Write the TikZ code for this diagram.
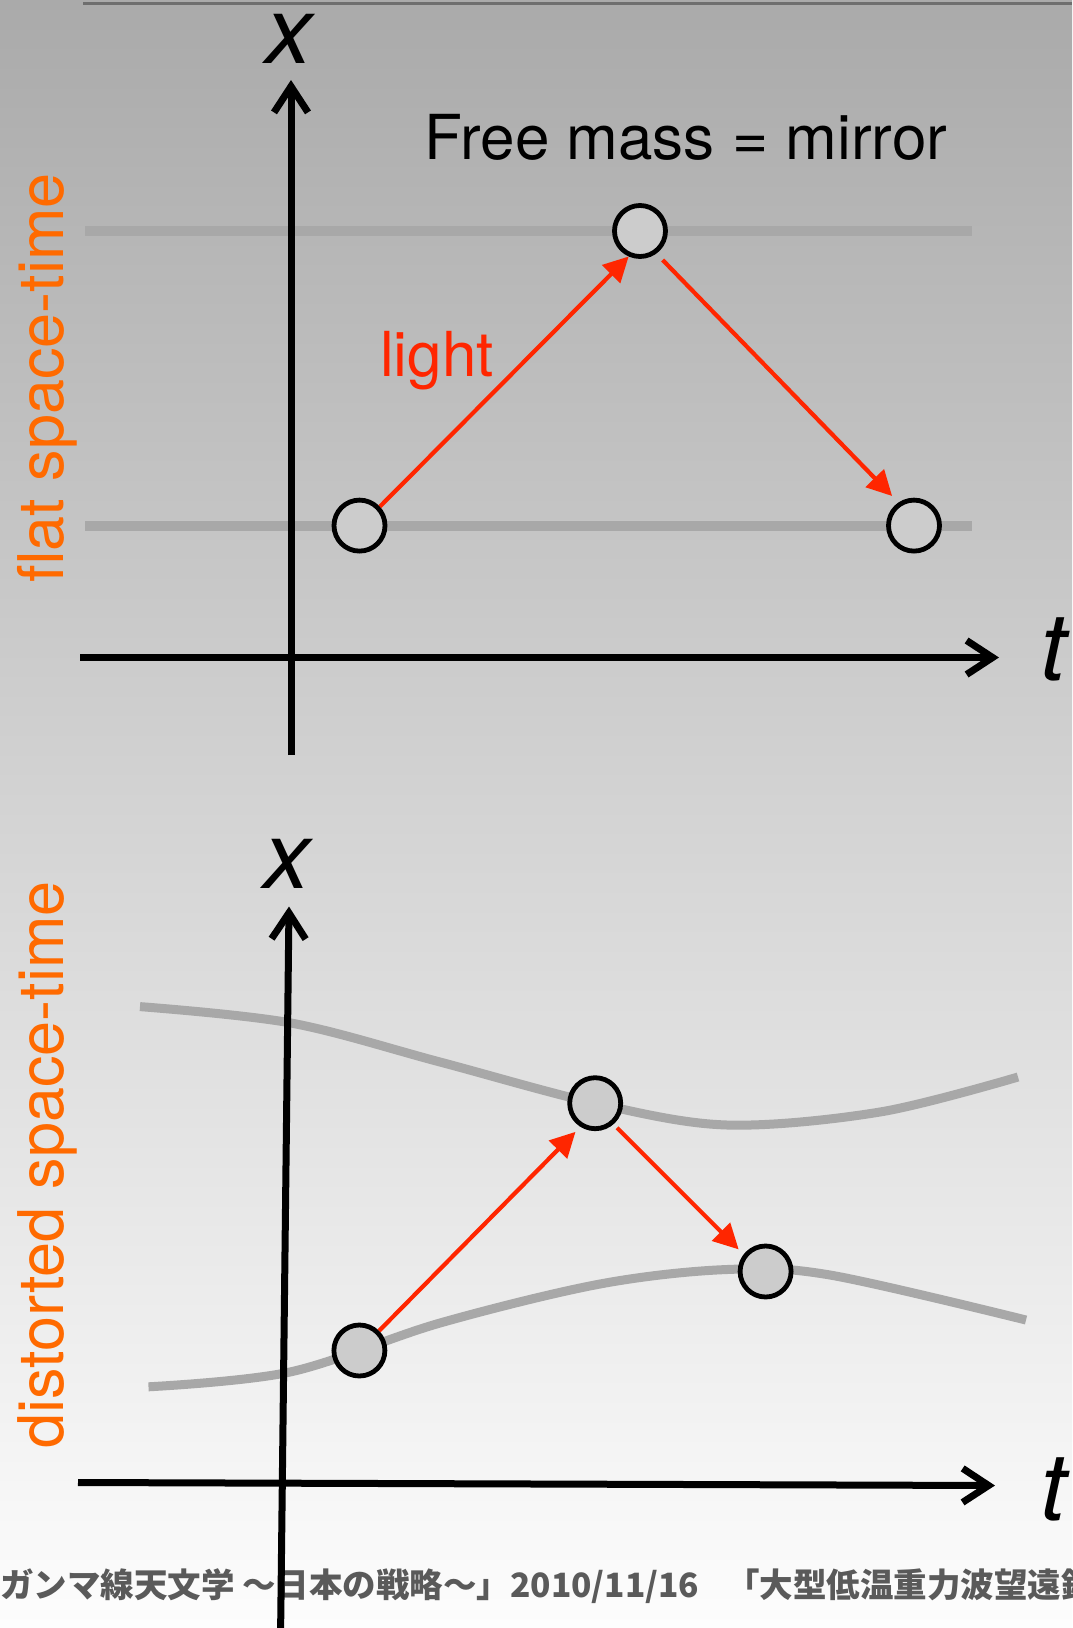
\documentclass[tikz,border=0pt]{standalone}
\usepackage{fontspec}
\setmainfont{TeX Gyre Heros}
\newfontfamily\cjk{Noto Sans CJK JP}
\usetikzlibrary{arrows.meta}
\definecolor{bgtop}{RGB}{170,170,170}
\definecolor{bgbot}{RGB}{253,253,253}
\definecolor{guidegray}{RGB}{168,168,168}
\definecolor{rulegray}{RGB}{110,110,110}
\definecolor{lightred}{RGB}{255,38,0}
\definecolor{labelorange}{RGB}{255,106,0}
\definecolor{footgray}{RGB}{90,90,90}
\definecolor{mirrorfill}{RGB}{204,204,204}
\tikzset{
  axisline/.style={line width=7pt, -{Straight Barb[length=26pt,width=34pt,sharp]}},
  guideline/.style={draw=guidegray, line width=10pt},
  mirror/.style={circle, draw=black, fill=mirrorfill, line width=4.8pt, minimum size=51pt, inner sep=0pt},
  ray/.style={draw=lightred, line width=4.2pt, -{Triangle[length=25pt,width=25pt]}},
  axlabel/.style={font=\fontsize{94}{100}\selectfont\itshape, inner sep=0pt},
  bigtext/.style={font=\fontsize{62}{70}\selectfont, inner sep=0pt},
  sidelabel/.style={font=\fontsize{63}{70}\selectfont, text=labelorange, inner sep=0pt, rotate=90, anchor=base},
}
\begin{document}
\begin{tikzpicture}[x=1pt,y=-1pt]
\useasboundingbox (0,0) rectangle (1072,1628);
\clip (0,0) rectangle (1072,1628);
\shade[top color=bgtop, bottom color=bgbot] (0,0) rectangle (1072,1628);
% top rule
\coordinate (r0) at (83,3);
\coordinate (r1) at (1072,3);
\draw[rulegray, line width=3pt] (r0) -- (r1);
% flat guides
\coordinate (g1a) at (85,230.6);
\coordinate (g1b) at (972,230.6);
\coordinate (g2a) at (85,525.6);
\coordinate (g2b) at (972,525.6);
\draw[guideline] (g1a) -- (g1b);
\draw[guideline] (g2a) -- (g2b);
% distorted guides
\draw[guideline, line width=9pt] plot[smooth, tension=0.55] coordinates {(140,1006.6) (291,1023) (440,1062) (595.2,1103.2) (727,1125) (880,1112) (1018,1077)};
\draw[guideline, line width=9pt] plot[smooth, tension=0.55] coordinates {(148.5,1386.8) (290,1372) (440,1323) (600,1284) (727,1269.5) (830,1275) (1026,1320)};
% footer
\node[font=\cjk\bfseries\fontsize{33.5}{40}\selectfont, text=footgray, anchor=west, inner sep=0pt] (foot) at (0,1586) {ガンマ線天文学 〜日本の戦略〜」2010/11/16\hspace{0.8em}「大型低温重力波望遠鏡};
% axes
\coordinate (ta0) at (291,755);
\coordinate (ta1) at (291,80);
\coordinate (th0) at (80,657.5);
\coordinate (th1) at (999,657.5);
\coordinate (ba0) at (280.5,1640);
\coordinate (ba1) at (289,906.5);
\coordinate (bh0) at (78,1482.5);
\coordinate (bh1) at (995,1485.5);
\draw[axisline] (ta0) -- (ta1);
\draw[axisline] (th0) -- (th1);
\draw[axisline] (ba0) -- (ba1);
\draw[axisline] (bh0) -- (bh1);
% mirrors
\node[mirror] (c1) at (359.5,525.6) {};
\node[mirror] (c2) at (640,231) {};
\node[mirror] (c3) at (914,525.6) {};
\node[mirror] (d1) at (359.4,1350.5) {};
\node[mirror] (d2) at (595.2,1103.2) {};
\node[mirror] (d3) at (765.6,1271.5) {};
% light rays
\draw[ray] (c1.43) -- (c2.246);
\draw[ray, shorten <=9pt, shorten >=9pt] (c2.-54) -- (c3.124);
\draw[ray, shorten >=7pt] (d1.45) -- (d2.238);
\draw[ray, shorten <=5pt, shorten >=7pt] (d2.-49) -- (d3.142);
% labels
\node[axlabel] (xtop) at (289,39) {x};
\node[axlabel, anchor=base west] (ttop) at (1040,680) {t};
\node[axlabel] (xbot) at (286.5,864) {x};
\node[axlabel, anchor=base west] (tbot) at (1040,1520) {t};
\node[bigtext, anchor=base] (title) at (686,159) {Free mass = mirror};
\node[bigtext, text=lightred, anchor=base] (lightlbl) at (437,376) {light};
\node[sidelabel] (flat) at (63,378) {flat space-time};
\node[sidelabel] (dist) at (63,1165) {distorted space-time};
\end{tikzpicture}
\end{document}
